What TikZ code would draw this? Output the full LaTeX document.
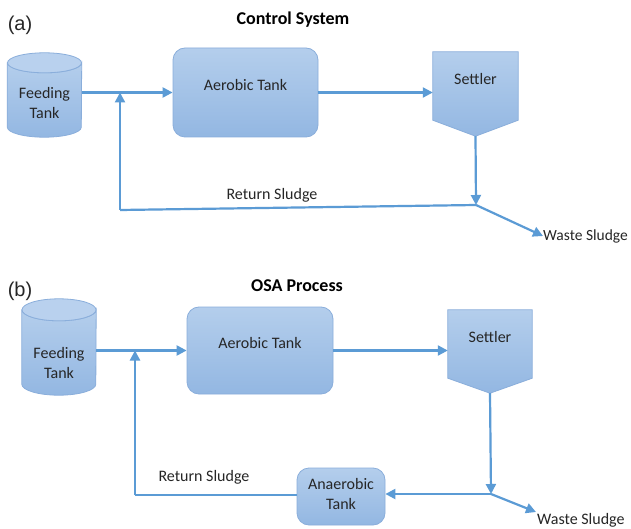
\documentclass[tikz,border=0pt]{standalone}
\usepackage{fontspec}
\setmainfont{Carlito}
\newfontfamily\arialf{Liberation Sans}
\usetikzlibrary{arrows.meta,calc}
\definecolor{arrowblue}{HTML}{5B9BD5}
\definecolor{boxtop}{HTML}{B4CEEC}
\definecolor{boxbot}{HTML}{93B7E2}
\definecolor{boxline}{HTML}{8AAEDB}
\definecolor{cylend}{HTML}{B9D1EE}
\definecolor{txtc}{HTML}{262626}
\begin{document}
\begin{tikzpicture}[x=1pt,y=-1pt,
  font=\fontsize{16}{20}\selectfont, text=txtc,
  box/.style={draw=boxline, line width=0.8pt, top color=boxtop, bottom color=boxbot, rounded corners=12pt, inner sep=0pt},
  plain/.style={draw=none, inner sep=0pt},
  shapefill/.style={draw=boxline, line width=0.8pt, top color=boxtop, bottom color=boxbot},
  endfill/.style={draw=boxline, line width=0.8pt, fill=cylend},
  lbl/.style={inner sep=1pt, align=center},
  title/.style={font=\fontsize{18}{22}\selectfont\bfseries, text=black},
  panel/.style={font=\arialf\fontsize{20}{24}\selectfont, text=txtc},
  arr/.style={draw=arrowblue, line width=2.2pt, -{Triangle[length=10pt,width=10pt]}},
  ln/.style={draw=arrowblue, line width=2.2pt}
]
\useasboundingbox (0,0) rectangle (631,529);
\fill[white] (0,0) rectangle (631,529);

% ---------------- (a) Control System ----------------
\node[panel] (pa) at (20,25) {(a)};
\node[title] (ta) at (293,20) {Control System};

\node[plain, minimum width=74pt, minimum height=84pt] (feedA) at (44.5,95) {};
\draw[shapefill] ($(feedA.north west)+(0,10)$) -- ($(feedA.south west)+(0,-10)$)
   arc[start angle=180, end angle=0, x radius=37, y radius=10]
   -- ($(feedA.north east)+(0,10)$)
   arc[start angle=0, end angle=180, x radius=37, y radius=10] -- cycle;
\draw[endfill] ($(feedA.north)+(0,10)$) ellipse[x radius=37, y radius=10];
\node[lbl] (feedAt) at (44.5,103) {Feeding\\Tank};

\node[box, minimum width=145pt, minimum height=89pt] (aerA) at (245.5,92.5) {};
\node[lbl] (aerAt) at (245.5,85) {Aerobic Tank};

\node[plain, minimum width=85pt, minimum height=84pt] (sA) at (475.5,94) {};
\draw[shapefill] (sA.north west) -- (sA.north east) -- ($(sA.south east)+(0,-16)$)
   -- (sA.south) -- ($(sA.south west)+(0,-16)$) -- cycle;
\node[lbl] (sAt) at (475.5,79) {Settler};

\coordinate (jA) at (476,205);
\coordinate (retA) at (120,210);
\node[lbl, inner sep=0pt, anchor=west, font=\fontsize{15.5}{19}\selectfont] (wasteA) at (543,236) {Waste Sludge};
\node[lbl] (rsA) at (272,195) {Return Sludge};

\draw[arr] (feedA.east |- aerA.west) -- (aerA.west);
\draw[arr] (aerA.east) -- (aerA.east -| sA.west);
\draw[arr] (sA.south) -- (jA);
\draw[ln] (jA) -- (retA);
\draw[arr] (retA) -- (retA |- aerA.west);
\draw[arr] (jA) -- (wasteA.west);

% ---------------- (b) OSA Process ----------------
\node[panel] (pb) at (20,291) {(b)};
\node[title] (tb) at (297,286) {OSA Process};

\node[plain, minimum width=74pt, minimum height=96pt] (feedB) at (59,347) {};
\draw[shapefill] ($(feedB.north west)+(0,11)$) -- ($(feedB.south west)+(0,-11)$)
   arc[start angle=180, end angle=0, x radius=37, y radius=11]
   -- ($(feedB.north east)+(0,11)$)
   arc[start angle=0, end angle=180, x radius=37, y radius=11] -- cycle;
\draw[endfill] ($(feedB.north)+(0,11)$) ellipse[x radius=37, y radius=11];
\node[lbl] (feedBt) at (59,363) {Feeding\\Tank};

\node[box, minimum width=146pt, minimum height=87pt] (aerB) at (260,350.5) {};
\node[lbl] (aerBt) at (260,343) {Aerobic Tank};

\node[plain, minimum width=84pt, minimum height=83pt] (sB) at (490,351.5) {};
\draw[shapefill] (sB.north west) -- (sB.north east) -- ($(sB.south east)+(0,-15)$)
   -- (sB.south) -- ($(sB.south west)+(0,-15)$) -- cycle;
\node[lbl] (sBt) at (490,337) {Settler};

\node[box, minimum width=88pt, minimum height=57pt] (anaB) at (341,496.5) {};
\node[lbl] (anaBt) at (341,494) {Anaerobic\\Tank};

\coordinate (jB) at (491,494);
\coordinate (retB) at (135,495);
\node[lbl, anchor=north west] (wasteB) at (536,512) {Waste Sludge};
\node[lbl] (rsB) at (204,477) {Return Sludge};

\draw[arr] (feedB.east |- aerB.west) -- (aerB.west);
\draw[arr] (aerB.east) -- (aerB.east -| sB.west);
\draw[arr] (sB.south) -- (jB);
\draw[arr] (jB) -- (jB -| anaB.east);
\draw[ln] (anaB.west |- retB) -- (retB);
\draw[arr] (retB) -- (retB |- aerB.west);
\draw[arr] (jB) -- (wasteB.north west);
\end{tikzpicture}
\end{document}
